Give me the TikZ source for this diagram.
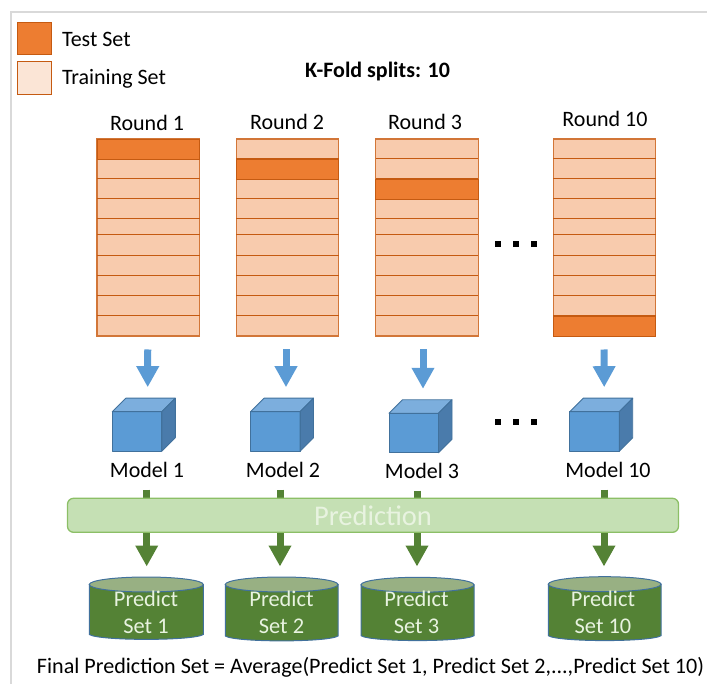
\documentclass[tikz,border=0pt]{standalone}
\usepackage{fontspec}
\setmainfont{Carlito}
\usetikzlibrary{arrows.meta}
\definecolor{testc}{HTML}{ED7D31}
\definecolor{trainc}{HTML}{F8CBAD}
\definecolor{legtrain}{HTML}{FBE5D6}
\definecolor{rowl}{HTML}{C55A11}
\definecolor{frameg}{HTML}{D9D9D9}
\definecolor{cubef}{HTML}{5B9BD5}
\definecolor{cubet}{HTML}{7CAEDD}
\definecolor{cubes}{HTML}{4A7BAB}
\definecolor{cubel}{HTML}{41719C}
\definecolor{darkg}{HTML}{548235}
\definecolor{cyltop}{HTML}{98B083}
\definecolor{barf}{HTML}{C5E0B4}
\definecolor{barl}{HTML}{8CBF66}
\definecolor{predtxt}{HTML}{E8F3E0}
\tikzset{
  lab/.style={inner sep=0pt,outer sep=0pt,font=\fontsize{22}{26}\selectfont,text=black},
  legendbox/.style={draw=rowl,line width=1pt,minimum width=34pt,inner sep=0pt,outer sep=0pt},
  stackbox/.style={draw=rowl!75!trainc,fill=trainc,line width=1.2pt,minimum width=102.5pt,minimum height=197pt,inner sep=0pt,outer sep=0pt},
  rowline/.style={draw=rowl,line width=1pt},
  testrow/.style={fill=testc,draw=rowl,line width=.8pt},
  cubebox/.style={inner sep=0pt,outer sep=0pt,minimum width=63pt,minimum height=53pt},
  cubeface/.style={draw=cubel,line width=.9pt,line join=round},
  bluearrow/.style={draw=cubef,line width=7pt,-{Triangle[length=21pt,width=21.5pt,fill=cubef]}},
  greenarrow/.style={draw=darkg,line width=7pt,-{Triangle[length=21pt,width=21.5pt,fill=darkg]}},
  cylshape/.style={draw=cubel,line width=1pt,fill=darkg},
  cyltext/.style={inner sep=0pt,outer sep=0pt,minimum width=113pt,minimum height=64pt,align=center,text=predtxt,font=\fontsize{22.4}{27}\selectfont},
  barbox/.style={draw=barl,fill=barf,line width=1.3pt,rounded corners=6pt,minimum width=611pt,minimum height=34pt,inner sep=0pt,outer sep=0pt,text=predtxt,font=\fontsize{28.5}{32}\selectfont},
  dotmark/.style={fill=black,minimum size=5.5pt,inner sep=0pt,outer sep=0pt},
  frameline/.style={draw=frameg,line width=2pt}
}
\begin{document}
\begin{tikzpicture}[x=1pt,y=-1pt]
\useasboundingbox (0,0) rectangle (707,684);
\draw[frameline] (707,12) -- (11,12) -- (11,684);
% legend
\node[legendbox,fill=testc,minimum height=32pt] (legtest) at (34,39) {};
\node[legendbox,fill=legtrain,minimum height=33pt] (legtrainb) at (34,78.5) {};
\node[lab,anchor=west] (ltest) at (62,39.5) {Test Set};
\node[lab,anchor=west] (ltrain) at (62,78.5) {Training Set};
\node[lab,font=\fontsize{22}{26}\selectfont\bfseries] (title) at (377.5,71.5) {K-Fold splits: 10};
% stacks
\foreach \n/\cx/\rowt/\rowb/\lx/\ly/\txt in {1/148.25/139/159/147/122.5/Round 1,2/287.5/159/179/287/121.5/Round 2,3/427/179/199/425/121.5/Round 3,10/604.5/316/336/605/119/Round 10}{
  \node[stackbox] (s\n) at (\cx,237.5) {};
  \foreach \yy in {159,179,199,219,235,255.5,276,296,316}{
    \draw[rowline] (\cx-51.25,\yy) -- (\cx+51.25,\yy);
  }
  \draw[testrow] (\cx-51.25,\rowt) rectangle (\cx+51.25,\rowb);
  \node[lab] (r\n) at (\lx,\ly) {\txt};
}
% cubes
\foreach \n/\fl/\ft/\mx/\my in {1/112.3/411.7/147/470,2/250.5/411.7/283/470,3/389/413.3/422/471,10/569.7/411.7/608/470}{
  \fill[cubef] (\fl,\ft) rectangle (\fl+49.5,\ft+39.5);
  \draw[cubeface,fill=cubet] (\fl,\ft) -- (\fl+13.5,\ft-13.5) -- (\fl+63,\ft-13.5) -- (\fl+49.5,\ft) -- cycle;
  \draw[cubeface,fill=cubes] (\fl+49.5,\ft) -- (\fl+63,\ft-13.5) -- (\fl+63,\ft+26) -- (\fl+49.5,\ft+39.5) -- cycle;
  \draw[cubeface] (\fl,\ft) rectangle (\fl+49.5,\ft+39.5);
  \node[cubebox] (c\n) at (\fl+31.5,\ft+13) {};
  \node[lab] (m\n) at (\mx,\my) {Model \n};
}
% blue arrows
\foreach \n/\dxa/\dxb in {1/-0.5/3.9,2/-1.5/4,3/-4/2.5,10/-0.5/3}{
  \draw[bluearrow] ([shift={(\dxa,13.5)}]s\n.south) -- ([shift={(\dxb,-11)}]c\n.north);
}
% cylinders
\foreach \n/\cylL/\cylR/\cylT/\cylB/\tx in {1/89.3/203.3/577/639.5/146,2/225.3/338/577/641/281.5,3/361/474/577.3/640.7/416.5,10/548.3/661/576.7/640.7/603}{
  \path[cylshape] (\cylL,\cylT+7.5) -- (\cylL,\cylB-5) .. controls (\cylL+10,\cylB+1.5) and (\cylR-10,\cylB+1.5) .. (\cylR,\cylB-5) -- (\cylR,\cylT+7.5) -- cycle;
  \draw[cylshape,fill=cyltop] ({(\cylL+\cylR)/2},\cylT+7.5) ellipse [x radius={(\cylR-\cylL)/2},y radius=7.5];
  \node[cyltext] (p\n) at (\tx,612) {Predict\\Set \n};
}
% green arrows, behind the bar
\foreach \n/\dxa/\dxb in {1/-0.3/0.7,2/-3/-1.5,3/-5/0.5,10/-4/1}{
  \draw[greenarrow] ([shift={(\dxa,12)}]m\n.south) -- ([shift={(\dxb,-13.5)}]p\n.north);
}
\node[barbox] (bar) at (373,515.3) {Prediction};
% ellipsis marks
\foreach \n/\xx/\yy in {a/498/244,b/516/244,c/534/244,d/498/422,e/516/422,f/534/422}{
  \node[dotmark] (dot\n) at (\xx,\yy) {};
}
\node[lab,font=\fontsize{22.1}{26}\selectfont] (final) at (370.5,667) {Final Prediction Set = Average(Predict Set 1, Predict Set 2,...,Predict Set 10)};
\end{tikzpicture}
\end{document}
